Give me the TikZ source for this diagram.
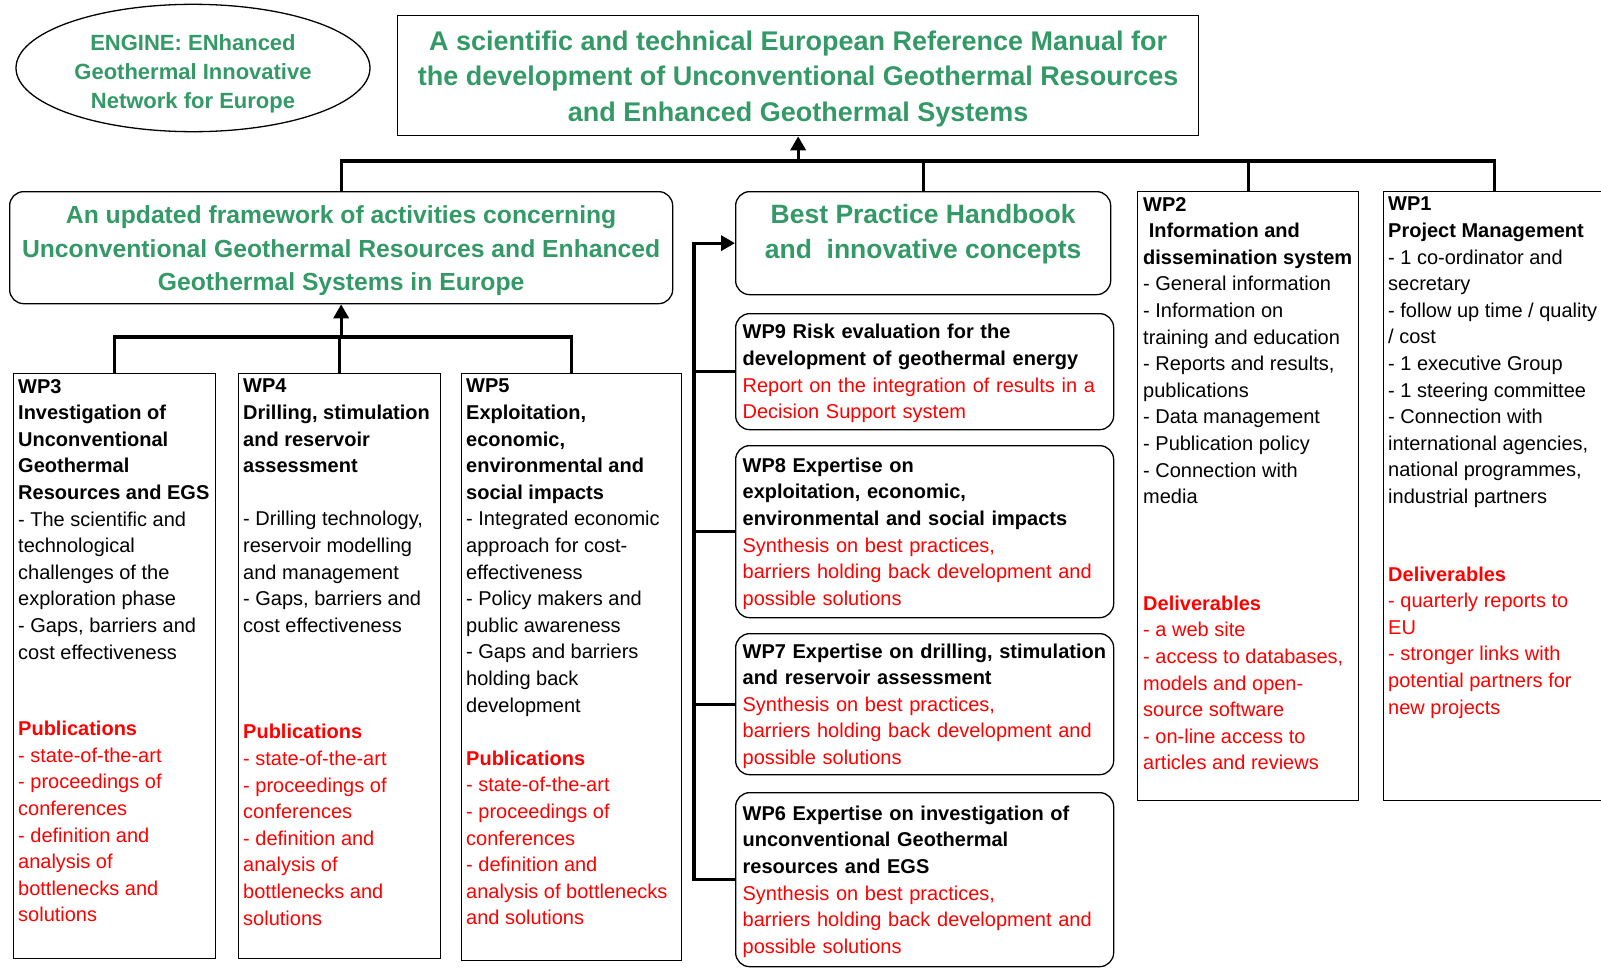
\documentclass[tikz,border=0pt]{standalone}
\usepackage{fontspec}
\setmainfont{Liberation Sans}
\usetikzlibrary{shapes.geometric,arrows.meta}

\definecolor{enggreen}{RGB}{51,153,102}
\definecolor{engred}{RGB}{255,0,0}
\newcommand{\redtxt}[1]{\textcolor{engred}{#1}}
\newcommand{\bodysize}{\fontsize{20}{26.6}\selectfont}

\begin{document}
\begin{tikzpicture}[
  x=1pt, y=-1pt,
  every node/.style={inner sep=0pt},
  box/.style={draw, line width=1.3pt, anchor=north west},
  rbox/.style={box, rounded corners=14pt},
  wptext/.style={anchor=north west, align=left, font=\bodysize},
  wpcard/.style={rbox, minimum width=378, text width=364, inner xsep=7pt, align=left, font=\bodysize,
                 execute at begin node={\rule{0pt}{18.6pt}}},
  link/.style={line width=3.3pt},
  arr/.style={link, -{Triangle[length=14pt,width=15pt]}}
]
  \useasboundingbox (0,0) rectangle (1601,969);

  % top row
  \node[draw, ellipse, line width=1.3pt, minimum width=354, minimum height=113,
        text=enggreen, align=center, font=\bfseries\fontsize{22}{29}\selectfont]
    (engine) at (193,68) {\rule{0pt}{27.5pt}ENGINE: ENhanced\\Geothermal Innovative\\Network for Europe};
  \node[box, minimum width=801, minimum height=120, text=enggreen, align=center,
        font=\bfseries\fontsize{27}{35.5}\selectfont] (title) at (397,15)
    {\rule{0pt}{25.7pt}A scientific and technical European Reference Manual for\\
     the development of Unconventional Geothermal Resources\\
     and Enhanced Geothermal Systems};

  % second row
  \node[rbox, minimum width=663, minimum height=112, text=enggreen, align=center,
        font=\bfseries\fontsize{24.7}{33.7}\selectfont] (frame) at (9,191)
    {\rule{0pt}{24pt}An updated framework of activities concerning\\
     Unconventional Geothermal Resources and Enhanced\\
     Geothermal Systems in Europe};
  \node[rbox, minimum width=375, minimum height=103] (bph) at (735,191) {};
  \node[text=enggreen, align=center, font=\bfseries\fontsize{26.5}{34.7}\selectfont]
    (bphtxt) at ([shift={(0,-9)}]bph.center) {Best Practice Handbook\\and~ innovative concepts};

  \node[box, minimum width=221, minimum height=609] (wp2) at (1137,191) {};
  \node[wptext] (wp2txt) at ([shift={(6,6)}]wp2.north west)
    {\textbf{WP2}\\
     \textbf{\ Information and}\\
     \textbf{dissemination system}\\
     - General information\\
     - Information on\\
     training and education\\
     - Reports and results,\\
     publications\\
     - Data management\\
     - Publication policy\\
     - Connection with\\
     media\\[80pt]
     \redtxt{\textbf{Deliverables}}\\
     \redtxt{- a web site}\\
     \redtxt{- access to databases,}\\
     \redtxt{models and open-}\\
     \redtxt{source software}\\
     \redtxt{- on-line access to}\\
     \redtxt{articles and reviews}};

  \node[box, minimum width=222, minimum height=609] (wp1) at (1383,191) {};
  \node[wptext] (wp1txt) at ([shift={(5,6)}]wp1.north west)
    {\textbf{WP1}\\
     \textbf{Project Management}\\
     - 1 co-ordinator and\\
     secretary\\
     - follow up time / quality\\
     / cost\\
     - 1 executive Group\\
     - 1 steering committee\\
     - Connection with\\
     international agencies,\\
     national programmes,\\
     industrial partners\\[51pt]
     \redtxt{\textbf{Deliverables}}\\
     \redtxt{- quarterly reports to}\\
     \redtxt{EU}\\
     \redtxt{- stronger links with}\\
     \redtxt{potential partners for}\\
     \redtxt{new projects}};

  % WP3 - WP5
  \node[box, minimum width=202, minimum height=585] (wp3) at (13,373) {};
  \node[wptext] (wp3txt) at ([shift={(5,6)}]wp3.north west)
    {\textbf{WP3}\\
     \textbf{Investigation of}\\
     \textbf{Unconventional}\\
     \textbf{Geothermal}\\
     \textbf{Resources and EGS}\\
     - The scientific and\\
     technological\\
     challenges of the\\
     exploration phase\\
     - Gaps, barriers and\\
     cost effectiveness\\[50pt]
     \redtxt{\textbf{Publications}}\\
     \redtxt{- state-of-the-art}\\
     \redtxt{- proceedings of}\\
     \redtxt{conferences}\\
     \redtxt{- definition and}\\
     \redtxt{analysis of}\\
     \redtxt{bottlenecks and}\\
     \redtxt{solutions}};

  \node[box, minimum width=202, minimum height=585] (wp4) at (238,373) {};
  \node[wptext] (wp4txt) at ([shift={(5,6)}]wp4.north west)
    {\textbf{WP4}\\
     \textbf{Drilling, stimulation}\\
     \textbf{and reservoir}\\
     \textbf{assessment}\\[26.6pt]
     - Drilling technology,\\
     reservoir modelling\\
     and management\\
     - Gaps, barriers and\\
     cost effectiveness\\[80pt]
     \redtxt{\textbf{Publications}}\\
     \redtxt{- state-of-the-art}\\
     \redtxt{- proceedings of}\\
     \redtxt{conferences}\\
     \redtxt{- definition and}\\
     \redtxt{analysis of}\\
     \redtxt{bottlenecks and}\\
     \redtxt{solutions}};

  \node[box, minimum width=220, minimum height=587] (wp5) at (461,373) {};
  \node[wptext] (wp5txt) at ([shift={(5,6)}]wp5.north west)
    {\textbf{WP5}\\
     \textbf{Exploitation,}\\
     \textbf{economic,}\\
     \textbf{environmental and}\\
     \textbf{social impacts}\\
     - Integrated economic\\
     approach for cost-\\
     effectiveness\\
     - Policy makers and\\
     public awareness\\
     - Gaps and barriers\\
     holding back\\
     development\\[26.6pt]
     \redtxt{\textbf{Publications}}\\
     \redtxt{- state-of-the-art}\\
     \redtxt{- proceedings of}\\
     \redtxt{conferences}\\
     \redtxt{- definition and}\\
     \redtxt{analysis of bottlenecks}\\
     \redtxt{and solutions}};

  % WP9 - WP6
  \node[wpcard, minimum height=116] (wp9) at (735,313)
    {\textbf{WP9 Risk evaluation for the}\\
     \textbf{development of geothermal energy}\\
     \redtxt{Report on the integration of results in a}\\
     \redtxt{Decision Support system}};
  \node[wpcard, minimum height=172] (wp8) at (735,445)
    {\textbf{WP8 Expertise on}\\
     \textbf{exploitation, economic,}\\
     \textbf{environmental and social impacts}\\
     \redtxt{Synthesis on best practices,}\\
     \redtxt{barriers holding back development and}\\
     \redtxt{possible solutions}};
  \node[wpcard, minimum height=141] (wp7) at (735,633)
    {\textbf{WP7 Expertise on drilling, stimulation}\\
     \textbf{and reservoir assessment}\\
     \redtxt{Synthesis on best practices,}\\
     \redtxt{barriers holding back development and}\\
     \redtxt{possible solutions}};
  \node[wpcard, minimum height=174] (wp6) at (735,792)
    {\textbf{WP6 Expertise on investigation of}\\
     \textbf{unconventional Geothermal}\\
     \textbf{resources and EGS}\\
     \redtxt{Synthesis on best practices,}\\
     \redtxt{barriers holding back development and}\\
     \redtxt{possible solutions}};

  % connectors
  \coordinate (topbar) at (0,161);
  \coordinate (lowbar) at (0,337);
  \coordinate (spine) at (694,0);

  \draw[link] (frame.north) |- (topbar -| wp1.north) -- (wp1.north);
  \draw[link] (bph.north) -- (bph.north |- topbar);
  \draw[link] (wp2.north) -- (wp2.north |- topbar);
  \draw[arr] (title.south |- topbar) -- (title.south);

  \draw[link] (wp3.north) |- (lowbar -| wp5.north) -- (wp5.north);
  \draw[link] (wp4.north) -- (wp4.north |- lowbar);
  \draw[arr] (frame.south |- lowbar) -- (frame.south);

  \draw[arr] (wp6.west) -| (spine |- bph.west) -- (bph.west);
  \foreach \n in {wp9,wp8,wp7}
    \draw[link] (\n.west) -- (\n.west -| spine);
\end{tikzpicture}
\end{document}
